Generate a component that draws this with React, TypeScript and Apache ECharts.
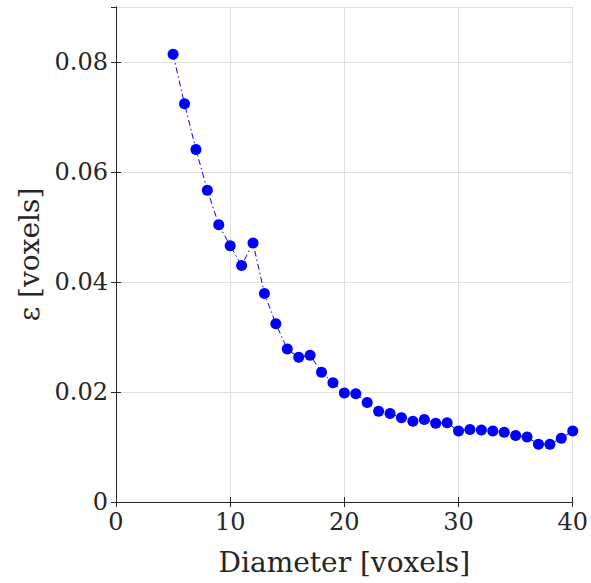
import React, { useEffect, useRef } from "react";
import * as echarts from "echarts";

const diameters = [5, 6, 7, 8, 9, 10, 11, 12, 13, 14, 15, 16, 17, 18, 19, 20, 21, 22, 23, 24, 25, 26, 27, 28, 29, 30, 31, 32, 33, 34, 35, 36, 37, 38, 39, 40];
const epsilon = [0.0814, 0.0724, 0.0641, 0.0567, 0.0504, 0.0466, 0.0430, 0.0471, 0.0379, 0.0324, 0.0278, 0.0263, 0.0267, 0.0236, 0.0217, 0.0198, 0.0197, 0.0181, 0.0165, 0.0161, 0.0153, 0.0147, 0.0150, 0.0143, 0.0144, 0.0129, 0.0132, 0.0131, 0.0129, 0.0127, 0.0121, 0.0118, 0.0105, 0.0105, 0.0116, 0.0129];

const FONT = "DejaVu Serif";
const AXIS_COLOR = "#262626";
const GRID_COLOR = "#dfdfdf";

export default function App() {
  const ref = useRef<HTMLDivElement>(null);
  useEffect(() => {
    if (!ref.current) return;
    const chart = echarts.init(ref.current, undefined, { renderer: "svg" });
    const axisLine = { show: true, lineStyle: { color: AXIS_COLOR, width: 1 } };
    const tick = { show: true, inside: true, length: 5, lineStyle: { color: AXIS_COLOR } };
    chart.setOption({
      animation: false,
      backgroundColor: "#ffffff",
      textStyle: { fontFamily: FONT },
      grid: { left: 116, right: 15, top: 7, bottom: 81, containLabel: false },
      xAxis: [
        {
          type: "value",
          min: 0,
          max: 40,
          interval: 10,
          position: "bottom",
          name: "Diameter [voxels]",
          nameLocation: "middle",
          nameGap: 46,
          nameTextStyle: { fontFamily: FONT, fontSize: 28, color: AXIS_COLOR },
          axisLine,
          axisTick: tick,
          axisLabel: { fontFamily: FONT, fontSize: 24, color: AXIS_COLOR, margin: 8 },
          splitLine: { show: true, lineStyle: { color: GRID_COLOR, width: 1 } },
        },
        {
          type: "value",
          min: 0,
          max: 40,
          interval: 10,
          position: "top",
          axisLine,
          axisTick: tick,
          axisLabel: { show: false },
          splitLine: { show: false },
        },
      ],
      yAxis: [
        {
          type: "value",
          min: 0,
          max: 0.09,
          interval: 0.02,
          position: "left",
          name: "ε [voxels]",
          nameLocation: "middle",
          nameGap: 70,
          nameTextStyle: { fontFamily: FONT, fontSize: 28, color: AXIS_COLOR },
          axisLine,
          axisTick: tick,
          axisLabel: {
            fontFamily: FONT,
            fontSize: 24,
            color: AXIS_COLOR,
            margin: 8,
            showMaxLabel: false,
            formatter: (v: number) => (v > 0.085 ? "" : String(Math.round(v * 100) / 100)),
          },
          splitLine: { show: true, lineStyle: { color: GRID_COLOR, width: 1 } },
        },
        {
          type: "value",
          min: 0,
          max: 0.09,
          interval: 0.02,
          position: "right",
          axisLine,
          axisTick: tick,
          axisLabel: { show: false },
          splitLine: { show: false },
        },
      ],
      series: [
        {
          type: "line",
          xAxisIndex: 0,
          yAxisIndex: 0,
          data: diameters.map((d, i) => [d, epsilon[i]]),
          symbol: "circle",
          symbolSize: 11,
          itemStyle: { color: "#0000ff" },
          lineStyle: { color: "#0000ff", width: 1, type: [6, 3, 1.5, 3] },
        },
      ],
    });
    return () => chart.dispose();
  }, []);
  return <div ref={ref} style={{ width: 591, height: 583, position: "absolute", left: 0, top: 0 }} />;
}
